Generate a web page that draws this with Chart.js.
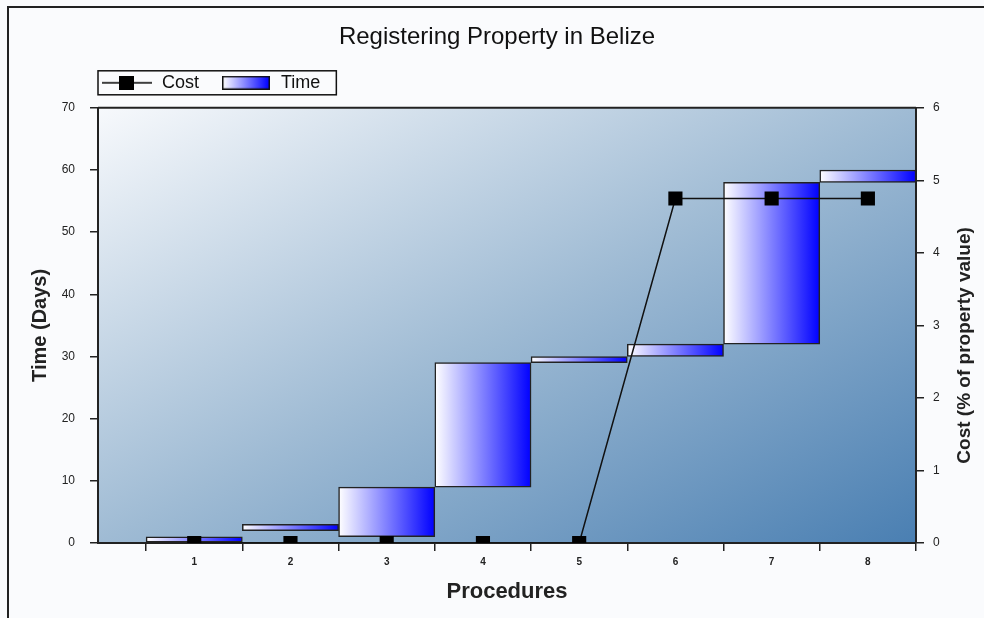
<!DOCTYPE html>
<html>
<head>
<meta charset="utf-8">
<script src="https://cdn.jsdelivr.net/npm/chart.js@4/dist/chart.umd.min.js"></script>
<style>
  html, body { margin: 0; padding: 0; background: #fafbfd; }
</style>
</head>
<body>
<canvas id="myChart" width="984" height="618"></canvas>
<script>
// values
const procedures = [1, 2, 3, 4, 5, 6, 7, 8];
const timeStart = [0, 2, 1, 9, 29, 30, 32, 58];
const timeEnd = [1, 3, 9, 29, 30, 32, 58, 60];
const cost = [0, 0, 0, 0, 0, 4.75, 4.75, 4.75];

Chart.defaults.font.family = '"Liberation Sans", Arial, sans-serif';
Chart.defaults.color = '#222';

// little pictures for the legend symbols
const costIcon = document.createElement('canvas');
costIcon.width = 50;
costIcon.height = 14;
(() => {
  const c = costIcon.getContext('2d');
  c.strokeStyle = '#000';
  c.lineWidth = 1.5;
  c.beginPath();
  c.moveTo(0, 7);
  c.lineTo(50, 7);
  c.stroke();
  c.fillStyle = '#000';
  c.fillRect(17, 0, 15, 14);
})();

const timeIcon = document.createElement('canvas');
timeIcon.width = 48;
timeIcon.height = 14;
(() => {
  const c = timeIcon.getContext('2d');
  const g = c.createLinearGradient(1, 0, 47, 0);
  g.addColorStop(0, '#ffffff');
  g.addColorStop(1, '#0000ff');
  c.fillStyle = g;
  c.fillRect(1, 1, 46, 12);
  c.strokeStyle = '#111';
  c.lineWidth = 1.5;
  c.strokeRect(0.75, 0.75, 46.5, 12.5);
})();

const barFill = ctx => {
  const chart = ctx.chart;
  const xs = chart.scales.x;
  if (!xs || ctx.dataIndex === undefined) return '#6666ff';
  const p = procedures[ctx.dataIndex];
  const x0 = xs.getPixelForValue(p - 0.5);
  const x1 = xs.getPixelForValue(p + 0.5);
  const g = chart.ctx.createLinearGradient(x0, 0, x1, 0);
  g.addColorStop(0, '#ffffff');
  g.addColorStop(1, '#0000ff');
  return g;
};

const rightTitle = 'Cost (% of property value)';

const decor = {
  id: 'decor',
  afterLayout(chart) {
    // move the legend over the plot's left edge, just above it
    const lg = chart.legend;
    const pad = lg.options.labels.padding;
    const dx = chart.chartArea.left + 3 - pad - lg.left;
    lg.left += dx;
    lg.right += dx;
    const dy = chart.chartArea.top - 25 - (lg.top + pad + 9);
    lg.top += dy;
    lg.bottom += dy;
  },
  beforeDraw(chart) {
    const {ctx, chartArea: a, width, height} = chart;
    ctx.save();
    ctx.fillStyle = '#fafbfd';
    ctx.fillRect(0, 0, width, height);
    ctx.strokeStyle = '#222';
    ctx.lineWidth = 2;
    ctx.beginPath();
    ctx.moveTo(8, height);
    ctx.lineTo(8, 7);
    ctx.lineTo(width, 7);
    ctx.stroke();
    // diagonal shading: light top-left, dark bottom-right
    const w = a.right - a.left;
    const h = a.bottom - a.top;
    const s = (2 * w * h) / (w * w + h * h);
    const g = ctx.createLinearGradient(a.left, a.top, a.left + h * s, a.top + w * s);
    g.addColorStop(0, '#f7f9fc');
    g.addColorStop(0.5, '#9fbbd4');
    g.addColorStop(1, '#4a7fb2');
    ctx.fillStyle = g;
    ctx.fillRect(a.left, a.top, w, h);
    ctx.restore();
  },
  afterDraw(chart) {
    const {ctx, chartArea: a} = chart;
    ctx.save();
    ctx.strokeStyle = '#222';
    ctx.lineWidth = 2;
    ctx.beginPath();
    ctx.moveTo(a.left, a.top);
    ctx.lineTo(a.right, a.top);
    ctx.stroke();
    const hb = chart.legend.legendHitBoxes;
    if (hb && hb.length) {
      const first = hb[0];
      const last = hb[hb.length - 1];
      const x0 = first.left - 3;
      const x1 = last.left + last.width + 16;
      const cy = first.top + first.height / 2;
      ctx.lineWidth = 1.5;
      ctx.strokeStyle = '#111';
      ctx.strokeRect(x0, cy - 12, x1 - x0, 24);
    }
    // right axis title, reading bottom to top like the left one
    const y1 = chart.scales.y1;
    ctx.translate(y1.right - 19, (a.top + a.bottom) / 2 + 20);
    ctx.rotate(-Math.PI / 2);
    ctx.font = 'bold 19px "Liberation Sans", Arial, sans-serif';
    ctx.fillStyle = '#222';
    ctx.textAlign = 'center';
    ctx.textBaseline = 'middle';
    ctx.fillText(rightTitle, 0, 0);
    ctx.restore();
  },
};

new Chart(document.getElementById('myChart').getContext('2d'), {
  type: 'bar',
  data: {
    datasets: [
      {
        type: 'line',
        label: 'Cost',
        yAxisID: 'y1',
        data: procedures.map((p, i) => ({ x: p, y: cost[i] })),
        borderColor: '#111',
        borderWidth: 1.5,
        tension: 0,
        pointStyle: 'rect',
        pointRadius: 10,
        pointHoverRadius: 10,
        pointBackgroundColor: '#000',
        pointBorderColor: '#000',
        pointBorderWidth: 0,
        clip: 0,
      },
      {
        type: 'bar',
        label: 'Time',
        yAxisID: 'y',
        data: procedures.map((p, i) => ({ x: p, y: [timeStart[i], timeEnd[i]] })),
        backgroundColor: barFill,
        borderColor: '#222',
        borderWidth: 1.5,
        borderSkipped: false,
        barPercentage: 1,
        categoryPercentage: 1,
      },
    ],
  },
  options: {
    responsive: false,
    animation: false,
    layout: { padding: { left: 10, right: 0, top: 0, bottom: 0 } },
    plugins: {
      title: {
        display: true,
        text: 'Registering Property in Belize',
        font: { size: 24, weight: 'normal' },
        color: '#111',
        padding: { top: 23, bottom: 7 },
      },
      legend: {
        position: 'top',
        align: 'start',
        labels: {
          usePointStyle: true,
          pointStyleWidth: 52,
          padding: 21,
          color: '#111',
          font: { size: 18 },
          generateLabels: chart => chart.data.datasets.map((ds, i) => ({
            text: ds.label,
            datasetIndex: i,
            hidden: false,
            pointStyle: i === 0 ? costIcon : timeIcon,
            fillStyle: 'transparent',
            strokeStyle: 'transparent',
            lineWidth: 0,
            fontColor: '#111',
          })),
        },
      },
      tooltip: { enabled: false },
    },
    scales: {
      x: {
        type: 'linear',
        min: 0,
        max: 8.5,
        offset: false,
        afterBuildTicks: s => { s.ticks = procedures.map(v => ({ value: v })); },
        afterFit: s => { s.height = 75; },
        grid: { offset: true, drawOnChartArea: false, tickLength: 8, color: '#222', lineWidth: 1.5 },
        border: { color: '#222', width: 2 },
        ticks: { padding: 5, font: { size: 10, weight: 'bold' }, color: '#222', autoSkip: false, maxRotation: 0 },
        title: {
          display: true,
          text: 'Procedures',
          font: { size: 22, weight: 'bold' },
          color: '#222',
          padding: { top: 0, bottom: 13 },
        },
      },
      y: {
        position: 'left',
        min: 0,
        max: 70,
        afterFit: s => { s.width = 88; },
        ticks: { stepSize: 10, padding: 15, font: { size: 12 }, color: '#222' },
        grid: { drawOnChartArea: false, tickLength: 8, color: '#222', lineWidth: 1.5 },
        border: { color: '#222', width: 2 },
        title: {
          display: true,
          text: 'Time (Days)',
          font: { size: 20, weight: 'bold' },
          color: '#222',
          padding: { top: 18, bottom: 0 },
        },
      },
      y1: {
        position: 'right',
        min: 0,
        max: 6,
        afterFit: s => { s.width = 68; },
        ticks: { stepSize: 1, padding: 9, font: { size: 12 }, color: '#222' },
        grid: { drawOnChartArea: false, tickLength: 8, color: '#222', lineWidth: 1.5 },
        border: { color: '#222', width: 2 },
        title: { display: false },
      },
    },
  },
  plugins: [decor],
});
</script>
</body>
</html>
